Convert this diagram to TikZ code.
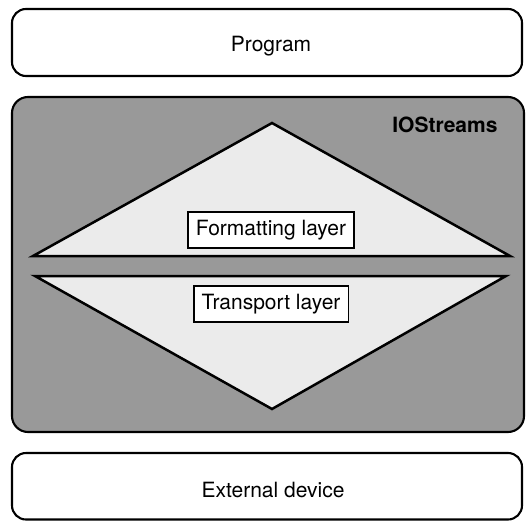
\documentclass[tikz,border=0pt]{standalone}
\usepackage{fontspec}
\setmainfont{TeX Gyre Heros}
\usetikzlibrary{positioning}

\tikzset{
  lab/.style={font=\fontsize{21}{25}\selectfont},
  outerbox/.style={draw,line width=2.1pt,rounded corners=14pt},
  tri/.style={draw,line width=2.5pt,fill=black!8,line join=miter},
  layerbox/.style={draw,line width=1.8pt,fill=white,inner xsep=8pt,minimum height=36pt,text height=15pt,text depth=4.5pt},
}

\begin{document}
\begin{tikzpicture}[x=1pt,y=-1pt]
\useasboundingbox (0,0) rectangle (526,521);
%\draw[help lines,step=50pt] (0,0) grid (526,521);
% program
\draw[outerbox] (12,9) rectangle (522,76);
\node[lab,anchor=base] (program) at (271,52) {Program};
% iostreams
\draw[outerbox,rounded corners=16pt,fill=black!40] (12,97) rectangle (524,432);
\node[lab,anchor=base east] (iostreams) at (501,133) {\bfseries IOStreams};
\draw[tri] (272,123) -- (510,256) -- (33,256) -- cycle;
\draw[tri] (35,276) -- (506,276) -- (272,409) -- cycle;
\node[layerbox,lab] (format) at (271,230) {Formatting layer};
\node[layerbox,lab] (transport) at (271,304) {Transport layer};
% device
\draw[outerbox] (12,453) rectangle (522,519.5);
\node[lab,anchor=base] (device) at (273,497) {External device};
\end{tikzpicture}
\end{document}
